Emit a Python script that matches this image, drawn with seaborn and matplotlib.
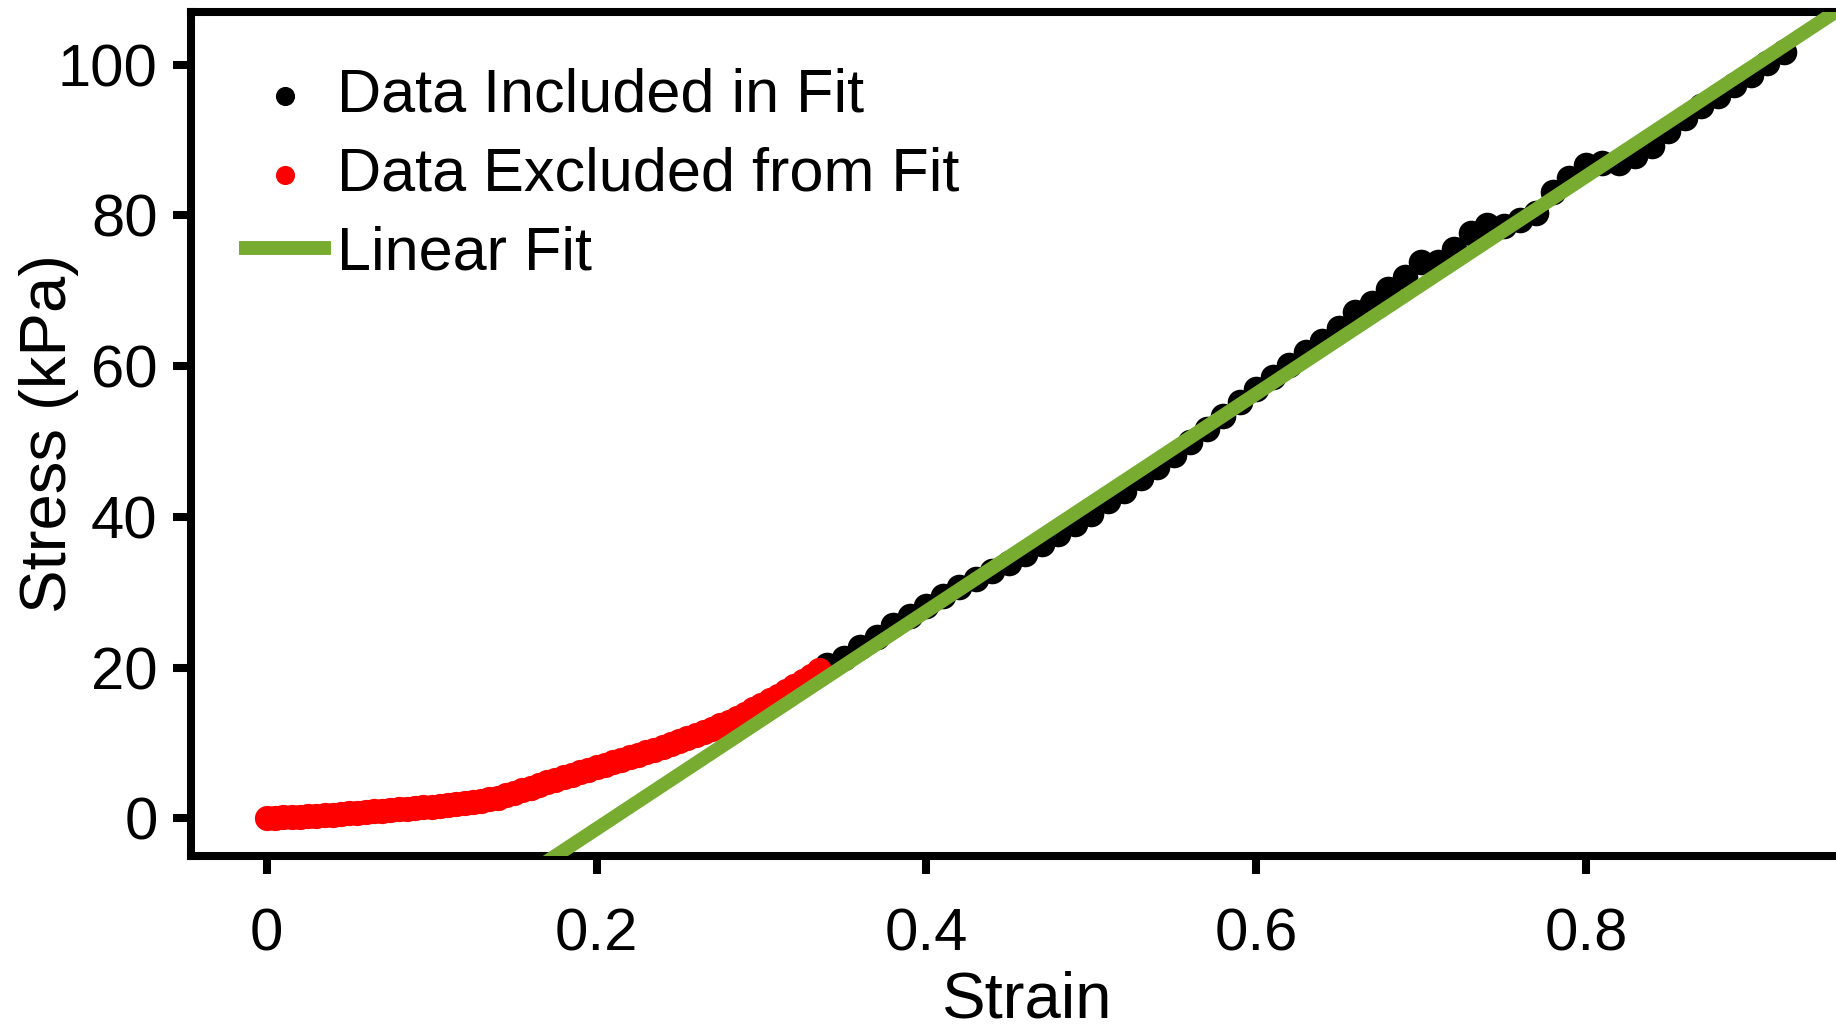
import numpy as np
import pandas as pd
import matplotlib
matplotlib.use("Agg")
import matplotlib.pyplot as plt
import seaborn as sns

# ---------------- data ----------------
# Excluded (red) points: strain 0 .. 0.335, step 0.005
excl_strain_start, excl_strain_stop, excl_n = 0.0, 0.335, 68
excl_stress = [
    0.00, 0.06, 0.12, 0.18, 0.24, 0.30, 0.36, 0.42, 0.49, 0.57,
    0.65, 0.73, 0.82, 0.91, 1.00, 1.09, 1.18, 1.27, 1.37, 1.47,
    1.57, 1.67, 1.78, 1.90, 2.02, 2.16, 2.32, 2.52, 2.76, 3.04,
    3.36, 3.72, 4.08, 4.44, 4.78, 5.12, 5.46, 5.80, 6.13, 6.46,
    6.80, 7.12, 7.44, 7.77, 8.10, 8.43, 8.77, 9.12, 9.48, 9.85,
    10.23, 10.62, 11.02, 11.43, 11.86, 12.32, 12.81, 13.33, 13.88, 14.45,
    15.04, 15.64, 16.26, 16.90, 17.56, 18.24, 18.94, 19.66,
]
# Included (black) points: strain 0.34 .. 0.92, step 0.01
incl_strain_start, incl_strain_stop, incl_n = 0.34, 0.92, 59
incl_stress = [
    20.3, 21.3, 22.8, 24.1, 25.6, 26.8, 28.2, 29.5, 30.7, 31.8,
    32.8, 33.9, 35.1, 36.4, 37.7, 39.1, 40.4, 42.1, 43.5, 45.2,
    46.6, 48.2, 50.0, 51.7, 53.4, 55.3, 57.0, 58.6, 60.2, 61.9,
    63.4, 65.1, 67.2, 68.4, 70.3, 71.8, 73.8, 73.8, 75.5, 77.7,
    78.7, 78.6, 79.4, 80.3, 83.1, 85.0, 86.7, 86.9, 87.0, 87.9,
    89.2, 91.2, 93.0, 94.5, 95.8, 97.3, 98.6, 100.2, 101.7,
]
fit_slope = 144.3       # kPa per unit strain
fit_intercept = -30.25  # kPa

x_ticks = [0, 0.2, 0.4, 0.6, 0.8]
x_tick_labels = ["0", "0.2", "0.4", "0.6", "0.8"]
y_ticks = [0, 20, 40, 60, 80, 100]
y_tick_labels = ["0", "20", "40", "60", "80", "100"]
x_limits = (-0.046, 0.968)
y_limits = (-5, 107)

labels = ["Data Included in Fit", "Data Excluded from Fit", "Linear Fit"]

# ---------------- tables ----------------
excl = pd.DataFrame({"Strain": np.linspace(excl_strain_start, excl_strain_stop, excl_n),
                     "Stress": excl_stress})
incl = pd.DataFrame({"Strain": np.linspace(incl_strain_start, incl_strain_stop, incl_n),
                     "Stress": incl_stress})
fit_x = np.array([x_limits[0], x_limits[1]])
fit = pd.DataFrame({"Strain": fit_x, "Stress": fit_slope * fit_x + fit_intercept})

# ---------------- style ----------------
sns.set_theme(style="ticks")
plt.rcParams["font.family"] = ["Liberation Sans", "DejaVu Sans"]
plt.rcParams["text.color"] = "black"
plt.rcParams["axes.labelcolor"] = "black"
plt.rcParams["xtick.color"] = "black"
plt.rcParams["ytick.color"] = "black"
FS = 43
FS_LABEL = 47
FS_LEG = 44

fig = plt.figure(figsize=(18.36, 10.28), dpi=100)
ax = fig.add_axes([0.104, 0.1673, 0.9107, 0.821])

GREEN = "#77AC30"
sns.scatterplot(data=incl, x="Strain", y="Stress", ax=ax, color="black",
                s=340, linewidth=0, label=labels[0], zorder=2)
sns.scatterplot(data=excl, x="Strain", y="Stress", ax=ax, color="#FF0000",
                s=330, linewidth=0, label=labels[1], zorder=2)
sns.lineplot(data=fit, x="Strain", y="Stress", ax=ax, color=GREEN,
             linewidth=10, label=labels[2], zorder=3)

ax.set_xlim(*x_limits)
ax.set_ylim(*y_limits)
ax.set_xticks(x_ticks)
ax.set_xticklabels(x_tick_labels)
ax.set_yticks(y_ticks)
ax.set_yticklabels(y_tick_labels)

for side in ["left", "bottom", "top"]:
    ax.spines[side].set_linewidth(5.8)
    ax.spines[side].set_color("black")
    ax.spines[side].set_visible(True)
ax.spines["right"].set_visible(False)

ax.tick_params(axis="both", which="major", direction="out", length=13,
               width=5.8, color="black", labelsize=FS, labelcolor="black")
ax.tick_params(axis="x", pad=24)
ax.tick_params(axis="y", pad=11)
ax.tick_params(top=False, right=False)

ax.set_xlabel("Strain", fontsize=FS_LABEL, labelpad=6)
ax.set_ylabel("Stress (kPa)", fontsize=FS_LABEL)
ax.yaxis.set_label_coords(-0.067, 0.5)

leg = ax.legend(loc="upper left", bbox_to_anchor=(0.029, 0.934), frameon=False,
                fontsize=FS_LEG, handlelength=1.5, handletextpad=0.1,
                labelspacing=0.36, borderpad=0, borderaxespad=0)
for h in leg.legend_handles:
    if hasattr(h, "set_sizes"):
        h.set_sizes([190])
    else:
        h.set_linewidth(10)
        h.set_solid_capstyle("butt")
for t in leg.get_texts():
    t.set_color("black")

fig.savefig("out.png", dpi=100)
